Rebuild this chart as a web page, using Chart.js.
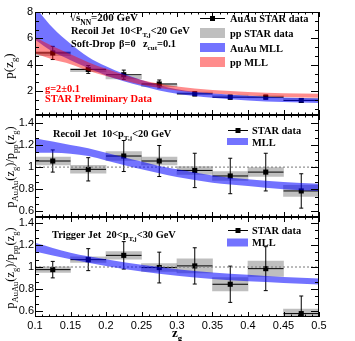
<!DOCTYPE html>
<html><head><meta charset="utf-8">
<script src="https://cdn.jsdelivr.net/npm/chart.js@4.4.1/dist/chart.umd.min.js"></script>
<style>
html,body{margin:0;padding:0;background:#fff;}
#wrap{position:relative;width:355px;height:341px;}
canvas{position:absolute;left:0;top:0;}
</style></head><body>
<div id="wrap">
<canvas id="c1" width="355" height="341"></canvas>
<canvas id="c2" width="355" height="341"></canvas>
<canvas id="c3" width="355" height="341"></canvas>
</div>
<script>
// ---------------- data ----------------
const binCenters = [0.125, 0.175, 0.225, 0.275, 0.325, 0.375, 0.425, 0.475];
const binHalfWidth = 0.025;

// top panel: p(z_g)
const auauP      = [4.9, 3.65, 3.25, 2.55, 1.8, 1.55, 1.55, 1.3];
const auauPStat  = [0.5, 0.3, 0.35, 0.3, 0.15, 0.15, 0.15, 0.15];
const ppP        = [4.85, 3.6, 3.05, 2.45, 1.85, 1.62, 1.58, 1.38];
const ppPErr     = [0.15, 0.12, 0.12, 0.1, 0.08, 0.08, 0.08, 0.08];
const mllZ       = [0.1, 0.125, 0.15, 0.175, 0.2, 0.25, 0.3, 0.35, 0.4, 0.45, 0.5];
const auauMllLo  = [5.9, 5.0, 4.35, 3.75, 3.2, 2.4, 1.8, 1.5, 1.3, 1.18, 1.1];
const auauMllHi  = [8.4, 6.8, 5.6, 4.6, 3.9, 2.85, 2.15, 1.85, 1.65, 1.52, 1.45];
const ppMllLo    = [4.85, 4.4, 4.05, 3.55, 3.15, 2.5, 2.05, 1.83, 1.68, 1.57, 1.5];
const ppMllHi    = [6.1, 5.4, 4.8, 4.2, 3.7, 2.85, 2.35, 2.1, 1.95, 1.85, 1.8];

// middle panel: recoil jet ratio
const recoilRatio     = [1.055, 0.98, 1.1, 1.055, 0.97, 0.92, 0.955, 0.785];
const recoilRatioStat = [0.1, 0.105, 0.14, 0.14, 0.155, 0.16, 0.17, 0.155];
const recoilRatioSys  = [0.035, 0.035, 0.04, 0.035, 0.035, 0.04, 0.04, 0.05];
const recoilMllZ  = [0.1, 0.125, 0.15, 0.175, 0.2, 0.225, 0.25, 0.275, 0.3, 0.35, 0.4, 0.45, 0.5];
const recoilMllLo = [1.13, 1.13, 1.12, 1.10, 1.06, 1.02, 0.98, 0.945, 0.91, 0.86, 0.83, 0.80, 0.785];
const recoilMllHi = [1.26, 1.23, 1.20, 1.17, 1.13, 1.09, 1.05, 1.01, 0.98, 0.925, 0.89, 0.865, 0.85];

// bottom panel: trigger jet ratio
const trigRatio     = [0.976, 1.067, 1.106, 0.995, 1.01, 0.843, 0.985, 0.576];
const trigRatioStat = [0.075, 0.1, 0.125, 0.14, 0.165, 0.165, 0.2, 0.16];
const trigRatioSys  = [0.025, 0.025, 0.035, 0.035, 0.065, 0.06, 0.07, 0.04];
const trigMllZ  = [0.1, 0.15, 0.2, 0.25, 0.3, 0.35, 0.4, 0.45, 0.5];
const trigMllLo = [1.14, 1.07, 1.01, 0.96, 0.92, 0.89, 0.87, 0.855, 0.84];
const trigMllHi = [1.22, 1.13, 1.07, 1.02, 0.98, 0.95, 0.93, 0.91, 0.895];

// ticks
const xTickValues = [0.1, 0.15, 0.2, 0.25, 0.3, 0.35, 0.4, 0.45, 0.5];
const xTickLabels = ['0.1', '0.15', '0.2', '0.25', '0.3', '0.35', '0.4', '0.45', '0.5'];
const pTickValues = [2, 4, 6, 8];
const pTickLabels = ['2', '4', '6', '8'];
const ratioTickValues = [0.6, 0.8, 1, 1.2, 1.4];
const ratioTickLabels = ['0.6', '0.8', '1', '1.2', '1.4'];

// ---------------- styles ----------------
const BLUE = 'rgba(0,0,255,0.55)';
const RED = 'rgba(255,0,0,0.45)';
const GRAY = 'rgba(128,128,128,0.5)';
const SERIF = '"Liberation Serif","Times New Roman",serif';
const SANS = '"Liberation Sans",Arial,sans-serif';

// ---------------- helpers ----------------
function band(z, lo, hi, color, order) {
  return [
    {type: 'line', data: z.map((x, i) => ({x, y: lo[i]})), borderWidth: 0, borderColor: 'rgba(0,0,0,0)',
     pointRadius: 0, fill: false, cubicInterpolationMode: 'monotone', order},
    {type: 'line', data: z.map((x, i) => ({x, y: hi[i]})), borderWidth: 0, borderColor: 'rgba(0,0,0,0)',
     pointRadius: 0, fill: '-1', backgroundColor: color, cubicInterpolationMode: 'monotone', order}
  ];
}
function vErrData(xs, ys, es) {
  const d = [];
  xs.forEach((x, i) => d.push({x, y: ys[i] - es[i]}, {x, y: ys[i] + es[i]}, {x, y: null}));
  return d;
}
function hErrData(xs, ys, hw) {
  const d = [];
  xs.forEach((x, i) => d.push({x: x - hw, y: ys[i]}, {x: x + hw, y: ys[i]}, {x: x + hw, y: null}));
  return d;
}
function boxData(xs, ys, es) {
  return xs.map((x, i) => ({x, y: [ys[i] - es[i], ys[i] + es[i]]}));
}
function dataSets(vals, stat) {
  return [
    {type: 'line', data: hErrData(binCenters, vals, binHalfWidth), borderColor: '#000', borderWidth: 1,
     pointRadius: 0, tension: 0, order: 5},
    {type: 'line', data: vErrData(binCenters, vals, stat), borderColor: '#000', borderWidth: 1,
     pointRadius: 2, pointStyle: 'line', pointBorderColor: '#000', pointBorderWidth: 1, tension: 0, order: 5},
    {type: 'scatter', data: binCenters.map((x, i) => ({x, y: vals[i]})), pointStyle: 'rect', pointRadius: 3.6,
     backgroundColor: '#000', pointBorderWidth: 0, borderColor: '#000', order: 4}
  ];
}
function boxSet(vals, errs) {
  return {type: 'bar', data: boxData(binCenters, vals, errs), backgroundColor: GRAY, borderWidth: 0,
          barPercentage: 1, categoryPercentage: 1, order: 6};
}
function unityLine() {
  return {type: 'line', data: [{x: 0.1, y: 1}, {x: 0.5, y: 1}], borderColor: '#777', borderWidth: 1,
          borderDash: [2, 2], pointRadius: 0, order: 3};
}

function richText(ctx, x, y, parts, o) {
  const size = o.size, wt = o.bold ? 'bold ' : '', fam = o.family || SERIF;
  const sub = size * 0.68;
  let widths = [], total = 0;
  parts.forEach(p => {
    ctx.font = wt + (p[1] ? sub : size) + 'px ' + fam;
    const w = ctx.measureText(p[0]).width; widths.push(w); total += w;
  });
  let cx = o.align === 'center' ? x - total / 2 : (o.align === 'right' ? x - total : x);
  ctx.fillStyle = o.color || '#000';
  ctx.textBaseline = 'alphabetic'; ctx.textAlign = 'left';
  let olStart = null, olEnd = null;
  parts.forEach((p, i) => {
    ctx.font = wt + (p[1] ? sub : size) + 'px ' + fam;
    const dy = p[1] === 'sub' ? size * 0.32 : (p[1] === 'sup' ? -size * 0.4 : 0);
    ctx.fillText(p[0], cx, y + dy);
    if (p[2]) { if (olStart === null) olStart = cx; olEnd = cx + widths[i]; }
    cx += widths[i];
  });
  if (olStart !== null) {
    ctx.strokeStyle = o.color || '#000'; ctx.lineWidth = 1;
    ctx.beginPath(); ctx.moveTo(olStart - 1, Math.round(y - size * 0.82) + 0.5);
    ctx.lineTo(olEnd + 1, Math.round(y - size * 0.82) + 0.5); ctx.stroke();
  }
}
function rotText(ctx, x, y, parts, o) {
  ctx.save(); ctx.translate(x, y); ctx.rotate(-Math.PI / 2);
  richText(ctx, 0, 0, parts, Object.assign({align: 'center'}, o));
  ctx.restore();
}

function frameTicks(chart, base, step) {
  const {ctx, chartArea: a, scales: {x, y}} = chart;
  ctx.save();
  ctx.strokeStyle = '#000'; ctx.lineWidth = 1;
  ctx.beginPath();
  for (let k = 0; k <= 40; k++) {
    const px = Math.round(x.getPixelForValue(0.1 + k * 0.01)) + 0.5;
    const L = (k % 5 === 0) ? 5 : 2.5;
    ctx.moveTo(px, a.bottom); ctx.lineTo(px, a.bottom - L);
    ctx.moveTo(px, a.top); ctx.lineTo(px, a.top + L);
  }
  for (let k = -40; k <= 60; k++) {
    const v = base + k * step;
    if (v < y.min - 1e-9 || v > y.max + 1e-9) continue;
    const py = Math.round(y.getPixelForValue(v)) + 0.5;
    const L = (((k % 3) + 3) % 3 === 0) ? 8 : 4;
    ctx.moveTo(a.left, py); ctx.lineTo(a.left + L, py);
    ctx.moveTo(a.right, py); ctx.lineTo(a.right - L, py);
  }
  ctx.stroke();
  ctx.strokeRect(a.left + 0.5, a.top + 0.5, a.right - a.left - 1, a.bottom - a.top - 1);
  ctx.restore();
}

function legendMarker(ctx, x0, x1, y) {
  ctx.save(); ctx.strokeStyle = '#000'; ctx.lineWidth = 1;
  ctx.beginPath(); ctx.moveTo(x0, Math.round(y) + 0.5); ctx.lineTo(x1, Math.round(y) + 0.5); ctx.stroke();
  ctx.fillStyle = '#000'; const cx = (x0 + x1) / 2;
  ctx.fillRect(cx - 2.5, Math.round(y) - 2, 5, 5);
  ctx.restore();
}
function legendBox(ctx, x0, x1, y0, y1, color) {
  ctx.save(); ctx.fillStyle = color; ctx.fillRect(x0, y0, x1 - x0, y1 - y0); ctx.restore();
}

function xScale(show) {
  const s = {
    type: 'linear', min: 0.1, max: 0.5, offset: false, display: show,
    afterBuildTicks: sc => { sc.ticks = xTickValues.map(v => ({value: v})); },
    grid: {display: false, drawTicks: false}, border: {display: false},
    ticks: {autoSkip: false, maxRotation: 0, minRotation: 0, padding: 2, color: '#000',
            font: {family: SANS, size: 11}, callback: (v, i) => xTickLabels[i]}
  };
  if (show) s.afterFit = sc => { sc.height = 24; };
  return s;
}
function yScale(min, max, vals, labels, pad) {
  return {
    type: 'linear', min, max,
    afterBuildTicks: sc => { sc.ticks = vals.map(v => ({value: v})); },
    afterFit: sc => { sc.width = 35; },
    grid: {display: false, drawTicks: false}, border: {display: false},
    ticks: {padding: pad, color: '#000', font: {family: SANS, size: 11}, callback: (v, i) => labels[i]}
  };
}
function baseOptions(padding, xs, ys) {
  return {
    responsive: false, animation: false, devicePixelRatio: 1,
    layout: {padding},
    plugins: {legend: {display: false}, tooltip: {enabled: false}},
    scales: {x: xs, y: ys}
  };
}
const TS = 10.4;
const RATIO_TITLE = [['p', ''], ['AuAu', 'sub'], ['(z', ''], ['g', 'sub'], [')/p', ''], ['pp', 'sub'], ['(z', ''], ['g', 'sub'], [')', '']];

// ---------------- chart 1 ----------------
new Chart(document.getElementById('c1'), {
  type: 'scatter',
  data: {datasets: [
    boxSet(ppP, ppPErr),
    ...dataSets(auauP, auauPStat),
    ...band(mllZ, auauMllLo, auauMllHi, BLUE, 2),
    ...band(mllZ, ppMllLo, ppMllHi, RED, 1)
  ]},
  options: baseOptions({left: 0, top: 12, right: 36, bottom: 226}, xScale(false),
                       yScale(0.2, 8, pTickValues, pTickLabels, 2)),
  plugins: [{id: 'deco1', afterDraw(chart) {
    const ctx = chart.ctx;
    frameTicks(chart, 0, 2 / 3);
    const o = {size: TS, bold: true};
    richText(ctx, 70, 21, [['√', ''], ['s', '', 1], ['NN', 'sub', 1], ['=200 GeV', '']], {size: 11, bold: true});
    richText(ctx, 71, 34, [['Recoil Jet  10<P', ''], ['T,j', 'sub'], ['<20 GeV', '']], o);
    richText(ctx, 71, 47, [['Soft-Drop', '']], o);
    richText(ctx, 119, 47, [['β=0', '']], o);
    richText(ctx, 143, 47, [['z', ''], ['cut', 'sub'], ['=0.1', '']], o);
    richText(ctx, 45, 92, [['g=2±0.1', '']], {size: TS, bold: true, color: '#f00'});
    richText(ctx, 45, 102, [['STAR Preliminary Data', '']], {size: TS, bold: true, color: '#f00'});
    // legend
    legendMarker(ctx, 200, 225, 18);
    legendBox(ctx, 200, 225, 28, 38, GRAY);
    legendBox(ctx, 200, 225, 43, 52, BLUE);
    legendBox(ctx, 200, 225, 57, 67, RED);
    richText(ctx, 230, 22, [['AuAu STAR data', '']], o);
    richText(ctx, 230, 37, [['pp STAR data', '']], o);
    richText(ctx, 230, 51.5, [['AuAu MLL', '']], o);
    richText(ctx, 230, 66, [['pp MLL', '']], o);
    rotText(ctx, 13, 66, [['p(z', ''], ['g', 'sub'], [')', '']], {size: 13});
  }}]
});

// ---------------- chart 2 ----------------
new Chart(document.getElementById('c2'), {
  type: 'scatter',
  data: {datasets: [
    boxSet(recoilRatio, recoilRatioSys),
    ...dataSets(recoilRatio, recoilRatioStat),
    unityLine(),
    ...band(recoilMllZ, recoilMllLo, recoilMllHi, BLUE, 2)
  ]},
  options: baseOptions({left: 0, top: 115, right: 36, bottom: 124}, xScale(false),
                       yScale(0.55, 1.47, ratioTickValues, ratioTickLabels, 1)),
  plugins: [{id: 'deco2', afterDraw(chart) {
    const ctx = chart.ctx;
    frameTicks(chart, 0.6, 0.2 / 3);
    const o = {size: TS, bold: true};
    richText(ctx, 53, 137, [['Recoil Jet  10<p', ''], ['T,j', 'sub'], ['<20 GeV', '']], o);
    legendMarker(ctx, 228, 248, 130);
    legendBox(ctx, 227, 248, 138, 145, BLUE);
    richText(ctx, 252, 134, [['STAR data', '']], o);
    richText(ctx, 252, 145.5, [['MLL', '']], o);
    rotText(ctx, 14, 167, RATIO_TITLE, {size: 12.5});
  }}]
});

// ---------------- chart 3 ----------------
new Chart(document.getElementById('c3'), {
  type: 'scatter',
  data: {datasets: [
    boxSet(trigRatio, trigRatioSys),
    ...dataSets(trigRatio, trigRatioStat),
    unityLine(),
    ...band(trigMllZ, trigMllLo, trigMllHi, BLUE, 2)
  ]},
  options: baseOptions({left: 0, top: 217, right: 36, bottom: 0}, xScale(true),
                       yScale(0.545, 1.455, ratioTickValues, ratioTickLabels, 1)),
  plugins: [{id: 'deco3', afterDraw(chart) {
    const ctx = chart.ctx;
    frameTicks(chart, 0.6, 0.2 / 3);
    const o = {size: TS, bold: true};
    richText(ctx, 52, 238, [['Trigger Jet  20<p', ''], ['T,j', 'sub'], ['<30 GeV', '']], o);
    legendMarker(ctx, 228, 248, 229.5);
    legendBox(ctx, 227, 248, 238.5, 246.5, BLUE);
    richText(ctx, 252, 233.5, [['STAR data', '']], o);
    richText(ctx, 252, 246, [['MLL', '']], o);
    rotText(ctx, 14, 268, RATIO_TITLE, {size: 12.5});
    richText(ctx, 172, 337, [['z', ''], ['g', 'sub']], {size: 13, bold: true});
  }}]
});
</script>
</body></html>
